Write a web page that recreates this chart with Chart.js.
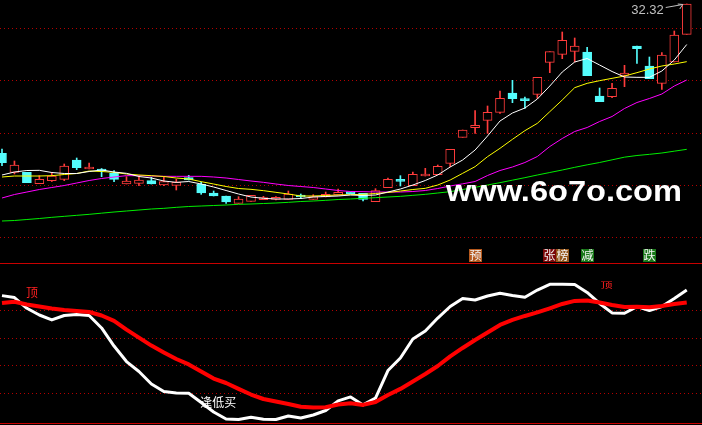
<!DOCTYPE html>
<html>
<head>
<meta charset="utf-8">
<script src="https://cdn.jsdelivr.net/npm/chart.js@4.4.1/dist/chart.umd.min.js"></script>
<style>
  html, body { margin: 0; padding: 0; background: #000; overflow: hidden; }
  #wrap { position: relative; width: 702px; height: 425px; background: #000; }
  canvas { position: absolute; left: 0; }
  #main { top: 0; }
  #sub { top: 263px; }
</style>
</head>
<body>
<div id="wrap">
  <canvas id="main" width="702" height="263"></canvas>
  <canvas id="sub" width="702" height="162"></canvas>
</div>
<script>
/* K线 + 均线 + 副图指标 */

// 日K (56 根)
var open  = [23.36,22.22,22.22,21.54,21.72,21.80,22.96,22.42,22.40,22.18,21.52,21.56,21.72,21.46,21.44,21.90,21.50,20.98,20.80,20.36,20.48,20.58,20.60,20.60,20.80,20.60,20.74,20.86,21.00,20.96,20.46,21.30,21.76,21.42,22.00,22.08,22.76,24.32,24.90,25.34,25.82,26.98,26.56,26.90,28.82,29.30,29.48,29.44,26.80,26.76,28.04,29.80,28.60,27.56,28.84,30.50];
var close = [22.80,22.66,21.60,21.80,22.00,22.60,22.50,22.54,22.30,21.80,21.70,21.76,21.52,21.66,21.62,21.76,20.98,20.80,20.44,20.62,20.84,20.66,20.68,20.92,20.74,20.76,20.90,21.02,20.94,20.60,21.12,21.80,21.68,22.10,22.06,22.58,23.60,24.76,25.04,25.82,26.66,26.64,26.52,27.92,29.46,30.14,29.80,28.02,26.46,27.26,28.18,29.64,27.84,29.26,30.46,32.32];
var high  = [23.62,22.90,22.22,22.02,22.22,22.72,23.08,22.78,22.45,22.32,21.96,21.96,21.92,21.92,21.80,22.04,21.64,21.10,20.80,20.76,20.84,20.78,20.76,21.10,20.92,20.88,21.04,21.22,21.00,20.96,21.24,21.88,22.02,22.24,22.46,22.66,23.60,24.76,25.92,26.20,27.10,27.74,26.74,27.92,29.46,30.64,30.28,29.72,27.28,27.56,28.64,29.80,29.14,29.40,30.70,32.32];
var low   = [22.62,22.12,21.60,21.54,21.67,21.72,22.38,22.42,21.96,21.66,21.52,21.42,21.52,21.42,21.16,21.76,20.90,20.80,20.36,20.36,20.48,20.58,20.56,20.60,20.64,20.60,20.74,20.86,20.94,20.50,20.46,21.30,21.40,21.42,22.00,22.08,22.56,24.32,24.56,24.56,25.76,26.40,26.06,26.66,28.20,29.04,28.84,28.02,26.46,26.70,27.36,28.76,27.84,27.20,28.84,30.50];

// 均线
var ma5  = [22.06,22.24,22.33,22.34,22.21,22.15,22.15,22.27,22.36,22.24,22.16,21.97,21.88,21.70,21.62,21.67,21.52,21.34,21.13,20.92,20.74,20.66,20.62,20.62,20.65,20.74,20.77,20.80,20.86,20.83,20.86,21.04,21.22,21.46,21.73,22.06,22.54,22.96,23.56,24.40,25.30,25.78,26.08,26.62,27.40,28.24,28.84,29.05,28.66,28.27,27.94,27.92,27.92,28.30,28.96,29.89];
var ma10 = [21.94,22.00,22.00,22.00,22.02,22.09,22.15,22.30,22.27,22.22,22.12,22.06,22.02,21.97,21.88,21.82,21.66,21.52,21.37,21.25,21.20,21.12,21.02,20.92,20.80,20.80,20.83,20.86,20.88,20.90,20.95,21.01,21.10,21.19,21.26,21.46,21.76,22.16,22.56,23.16,23.66,24.20,24.72,25.16,25.86,26.56,27.30,27.56,27.72,27.86,28.00,28.20,28.42,28.60,28.72,28.86];
var ma20 = [20.68,20.89,21.04,21.19,21.31,21.43,21.58,21.73,21.85,21.94,22.02,22.02,22.00,21.98,21.98,21.98,21.98,21.94,21.88,21.79,21.70,21.62,21.52,21.43,21.37,21.31,21.22,21.13,21.07,21.06,21.04,21.04,21.04,21.07,21.13,21.25,21.40,21.53,21.67,22.03,22.33,22.54,22.81,23.17,23.77,24.25,24.67,24.91,25.27,25.57,26.05,26.41,26.65,26.92,27.40,27.76];
var ma60 = [19.30,19.33,19.39,19.45,19.52,19.58,19.64,19.70,19.77,19.84,19.90,19.96,20.02,20.06,20.12,20.17,20.20,20.23,20.26,20.30,20.32,20.35,20.38,20.42,20.47,20.50,20.54,20.59,20.62,20.66,20.70,20.74,20.78,20.84,20.90,20.98,21.06,21.19,21.32,21.46,21.60,21.75,21.90,22.06,22.21,22.36,22.52,22.67,22.81,22.97,23.13,23.23,23.30,23.38,23.49,23.60];

// 副图 (白线 / 红线)
var lineK = [79.6,78.4,71.7,67.5,64.4,67.2,67.8,67.2,59.4,48.1,38.4,32.2,24.4,19.7,18.8,18.6,12.8,6.9,2.5,2.2,3.6,2.3,2.2,4.4,3.1,5.0,7.8,13.8,16.3,11.3,15.6,32.8,40.6,52.5,57.5,65.6,72.8,77.8,76.9,79.4,81.1,79.7,78.6,83.1,86.7,86.7,86.6,81.6,74.7,68.8,68.6,72.7,70.3,72.8,77.8,83.1];
var lineD = [75.0,75.8,74.1,72.8,71.6,70.6,70.0,69.4,67.2,63.8,58.4,53.4,48.4,44.1,40.0,36.6,32.2,27.8,25.0,21.3,17.8,15.0,13.4,11.9,10.2,9.7,9.8,11.6,12.3,11.3,13.1,17.5,21.3,25.9,30.6,35.6,41.6,46.9,51.9,56.6,61.3,64.4,66.9,69.1,71.7,74.4,76.3,76.6,75.3,73.8,72.5,72.6,72.4,73.1,74.4,75.3];

// 网格价位
var priceGrid = [30.88, 27.74, 24.60, 21.46, 18.32];
var subGrid = [70.6, 53.1, 36.3, 18.8];

// 信号
var signalIdx  = [38, 44, 45, 47, 52];
var signalText = ['预', '张', '榜', '减', '跌'];
var topIdx = [2, 48];
var buyIdx = [16];
var watermark = 'www.6o7o.com';

var RED = '#ff3c3c', CYAN = '#54fcfc';
var CJK = '"Noto Sans CJK SC", sans-serif';
var signalBg = ['#b4581c', '#7a0808', '#94561a', '#187818', '#187818'];

function pts(arr) { return arr.map(function (v, i) { return { x: i, y: v }; }); }
var isUp = close.map(function (c, i) { return c >= open[i]; });

function xAxis() {
  return { type: 'linear', display: false, offset: false, bounds: 'data', min: -0.16, max: 56.225 };
}

function dottedGrid(levels) {
  return {
    id: 'dottedGrid',
    beforeDatasetsDraw: function (chart) {
      var ctx = chart.ctx, ys = chart.scales.y, a = chart.chartArea;
      ctx.save();
      ctx.strokeStyle = '#b40000';
      ctx.lineWidth = 1;
      ctx.setLineDash([1, 3]);
      levels.forEach(function (v) {
        var y = Math.round(ys.getPixelForValue(v)) + 0.5;
        ctx.beginPath(); ctx.moveTo(a.left, y); ctx.lineTo(a.right, y); ctx.stroke();
      });
      ctx.restore();
    }
  };
}

function maLine(arr, color) {
  return { type: 'line', data: pts(arr), borderColor: color, borderWidth: 1, pointRadius: 0, tension: 0, order: 0 };
}

// 主图文字
var mainText = {
  id: 'mainText',
  afterDraw: function (chart) {
    var ctx = chart.ctx, xs = chart.scales.x, ys = chart.scales.y;
    ctx.save();

    // 水印
    ctx.font = 'bold 29px "Liberation Sans", Arial, sans-serif';
    ctx.fillStyle = '#ffffff';
    ctx.textBaseline = 'alphabetic';
    var w = ctx.measureText(watermark).width;
    ctx.save();
    ctx.translate(446, 201);
    ctx.scale(236 / w, 1);
    ctx.fillText(watermark, 0, 0);
    ctx.restore();

    // 最高价标注
    var last = high.length - 1;
    var px = xs.getPixelForValue(last), py = ys.getPixelForValue(high[last]);
    ctx.fillStyle = '#c0c0c0';
    ctx.strokeStyle = '#c0c0c0';
    ctx.lineWidth = 1;
    ctx.font = '13px "Liberation Sans", Arial, sans-serif';
    ctx.textAlign = 'right';
    ctx.textBaseline = 'middle';
    ctx.fillText(high[last].toFixed(2), px - 23, py + 6);
    ctx.beginPath();
    ctx.moveTo(px - 21, py + 3.5); ctx.lineTo(px - 4, py + 0.5);
    ctx.moveTo(px - 4, py + 0.5); ctx.lineTo(px - 9, py);
    ctx.moveTo(px - 4, py + 0.5); ctx.lineTo(px - 7, py + 5);
    ctx.stroke();

    // 信号方块
    ctx.font = '12px ' + CJK;
    ctx.textAlign = 'center';
    ctx.textBaseline = 'middle';
    signalIdx.forEach(function (idx, k) {
      var cx = xs.getPixelForValue(idx);
      ctx.fillStyle = signalBg[k];
      ctx.fillRect(Math.round(cx - 6.5), 249, 13, 13);
      ctx.fillStyle = '#f4f4f4';
      ctx.fillText(signalText[k], Math.round(cx - 6.5) + 6.5, 255.5);
    });
    ctx.restore();
  }
};

// 副图文字
var subText = {
  id: 'subText',
  afterDraw: function (chart) {
    var ctx = chart.ctx, xs = chart.scales.x, ys = chart.scales.y, a = chart.chartArea;
    ctx.save();
    // 上下实线
    ctx.strokeStyle = '#c80000';
    ctx.lineWidth = 1;
    ctx.beginPath();
    ctx.moveTo(0, 0.5); ctx.lineTo(702, 0.5);
    ctx.moveTo(0, a.bottom + 0.5); ctx.lineTo(702, a.bottom + 0.5);
    ctx.stroke();

    ctx.font = '12px ' + CJK;
    ctx.textAlign = 'left';
    ctx.textBaseline = 'top';
    ctx.fillStyle = '#ff2020';
    topIdx.forEach(function (idx, k) {
      var x = xs.getPixelForValue(idx) - 1 + (k ? 2 : 0);
      var y = ys.getPixelForValue(lineD[idx]);
      ctx.save();
      if (k === 0) {
        ctx.translate(x, y - 18);
      } else {
        ctx.translate(x, y - 21);
        ctx.scale(1, 0.65);
      }
      ctx.fillText('顶', 0, 0);
      ctx.restore();
    });
    ctx.fillStyle = '#ffffff';
    buyIdx.forEach(function (idx) {
      var x = xs.getPixelForValue(idx) - 1;
      var y = ys.getPixelForValue(lineK[idx]);
      ctx.fillText('逢低买', x, y - 6);
    });
    ctx.restore();
  }
};

new Chart(document.getElementById('main'), {
  type: 'bar',
  data: {
    datasets: [
      maLine(ma5, '#ffffff'),
      maLine(ma10, '#ffff00'),
      maLine(ma20, '#ff00ff'),
      maLine(ma60, '#00ee00'),
      {
        data: open.map(function (o, i) { return { x: i, y: [o, close[i]] }; }),
        backgroundColor: isUp.map(function (u) { return u ? '#000000' : CYAN; }),
        borderColor: isUp.map(function (u) { return u ? RED : CYAN; }),
        borderWidth: 1, borderSkipped: false, barThickness: 9, minBarLength: 2,
        grouped: false, order: 2
      },
      {
        data: low.map(function (l, i) { return { x: i, y: [l, high[i]] }; }),
        backgroundColor: isUp.map(function (u) { return u ? RED : CYAN; }),
        borderWidth: 0, barThickness: 1, grouped: false, order: 3
      }
    ]
  },
  options: {
    responsive: false,
    animation: false,
    layout: { padding: { left: 0, right: 0, top: 0, bottom: 1 } },
    scales: {
      x: xAxis(),
      y: { display: false, bounds: 'data', min: 16.84, max: 32.56 }
    },
    plugins: { legend: { display: false }, tooltip: { enabled: false } }
  },
  plugins: [dottedGrid(priceGrid), mainText]
});

new Chart(document.getElementById('sub'), {
  type: 'line',
  data: {
    datasets: [
      { data: pts(lineD), borderColor: '#ff0000', borderWidth: 4, pointRadius: 0, tension: 0, borderJoinStyle: 'round', order: 0 },
      { data: pts(lineK), borderColor: '#ffffff', borderWidth: 3, pointRadius: 0, tension: 0, borderJoinStyle: 'round', order: 1 }
    ]
  },
  options: {
    responsive: false,
    animation: false,
    layout: { padding: { left: 0, right: 0, top: 0, bottom: 2 } },
    scales: {
      x: xAxis(),
      y: { display: false, bounds: 'data', min: 0, max: 100 }
    },
    plugins: { legend: { display: false }, tooltip: { enabled: false } }
  },
  plugins: [dottedGrid(subGrid), subText]
});
</script>
</body>
</html>
